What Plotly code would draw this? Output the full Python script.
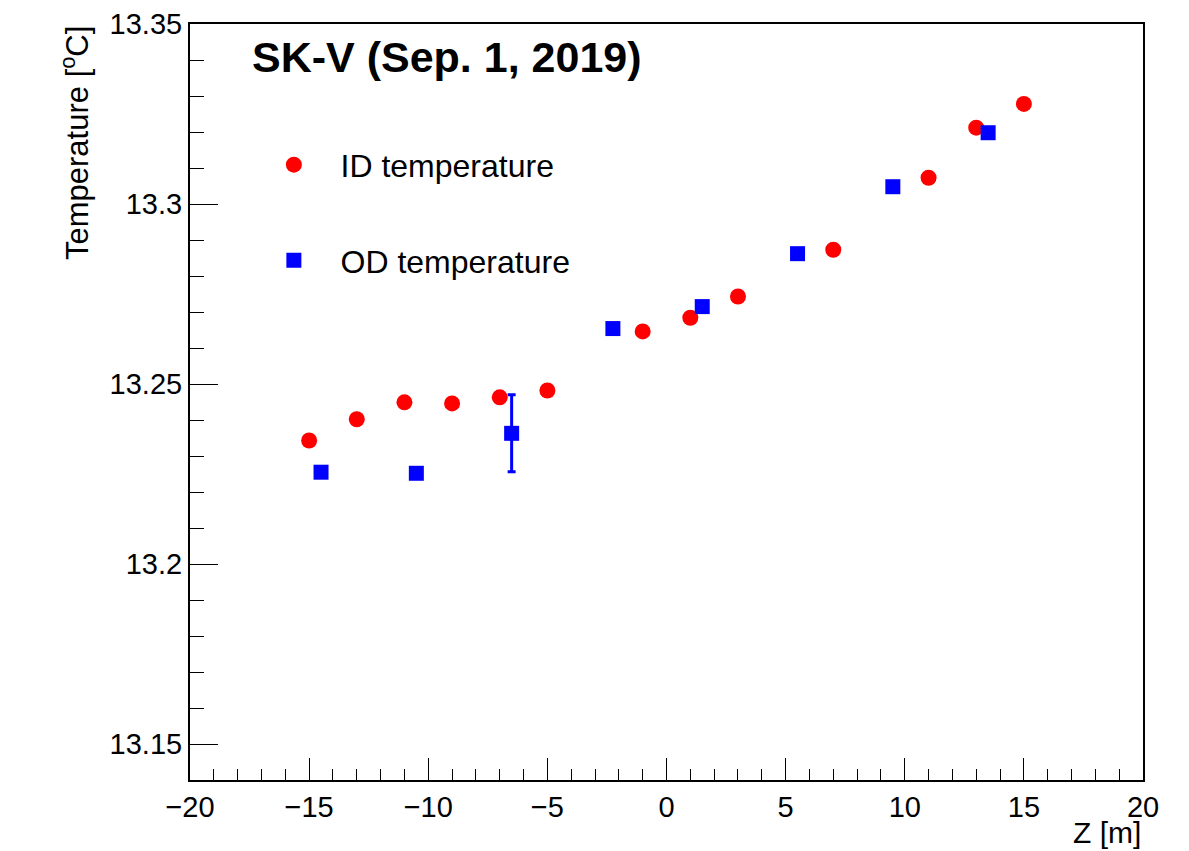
import plotly.graph_objects as go

id_z = [-15, -13, -11, -9, -7, -5, -1, 1, 3, 7, 11, 13, 15]
id_temp = [13.2343, 13.2402, 13.2449, 13.2446, 13.2463, 13.2482, 13.2646,
           13.2684, 13.2743, 13.2873, 13.3073, 13.3212, 13.3278]

od_z = [-14.5, -10.5, -6.5, -2.25, 1.5, 5.5, 9.5, 13.5]
od_temp = [13.2255, 13.2252, 13.2363, 13.2654, 13.2715, 13.2862, 13.3048, 13.3198]
od_err = [0, 0, 0.0107, 0, 0, 0, 0, 0]

FONT = "Liberation Sans, Arial, Helvetica, sans-serif"
NB = "\u00a0"

fig = go.Figure()
fig.add_trace(go.Scatter(
    x=id_z, y=id_temp, mode="markers", name=NB * 3 + "ID temperature",
    marker=dict(symbol="circle", size=16, color="#ff0000"),
    legendgroup="id",
))
fig.add_trace(go.Scatter(
    x=od_z, y=od_temp, mode="markers", name=NB * 3 + "OD temperature",
    marker=dict(symbol="square", size=15, color="#0000ff"),
    error_y=dict(type="data", array=od_err, visible=True, color="#0000ff",
                 thickness=3, width=4),
    legendgroup="od",
))

fig.update_layout(
    width=1189, height=851,
    margin=dict(l=190, r=46, t=24, b=71, autoexpand=False),
    paper_bgcolor="white", plot_bgcolor="white",
    font=dict(family=FONT, size=29, color="black"),
    showlegend=True,
    legend=dict(x=0.088, y=0.85, xanchor="left", yanchor="top",
                bgcolor="rgba(0,0,0,0)", font=dict(size=32, family=FONT),
                traceorder="grouped", tracegroupgap=51, itemsizing="trace"),
    xaxis=dict(range=[-20, 20], dtick=5, tick0=0, ticks="inside", ticklen=22,
               tickwidth=1, tickcolor="black", showgrid=False, zeroline=False,
               showline=True, linecolor="black", linewidth=2, mirror=True,
               automargin=False, tickfont=dict(size=29, family=FONT),
               minor=dict(dtick=1, ticks="inside", ticklen=11, tickwidth=1,
                          tickcolor="black", showgrid=False)),
    yaxis=dict(range=[13.14, 13.35], dtick=0.05, tick0=13.15, ticks="inside",
               ticklen=28, tickwidth=1, tickcolor="black", showgrid=False,
               zeroline=False, showline=True, linecolor="black", linewidth=2,
               mirror=True, automargin=False, tickfont=dict(size=29, family=FONT),
               minor=dict(dtick=0.01, tick0=13.14, ticks="inside", ticklen=14,
                          tickwidth=1, tickcolor="black", showgrid=False)),
    annotations=[
        dict(text="<b>SK-V (Sep. 1, 2019)</b>", xref="paper", yref="paper",
             x=(250 - 190) / 953, y=(780 - 57) / 756, xanchor="left",
             yanchor="middle", showarrow=False,
             font=dict(size=43, family=FONT, color="black")),
        dict(text="Temperature [<sup>o</sup>C]", xref="paper", yref="paper",
             x=(75 - 190) / 953, y=1.0, xanchor="center", yanchor="top",
             textangle=-90, showarrow=False,
             font=dict(size=31, family=FONT, color="black")),
        dict(text="Z [m]", xref="paper", yref="paper",
             x=1.0, y=(780 - 833) / 756, xanchor="right", yanchor="middle",
             showarrow=False, font=dict(size=30, family=FONT, color="black")),
    ],
)

fig.write_html(
    "out.html",
    config={"displayModeBar": False},
    post_script="document.body.style.margin='0';document.body.style.overflow='hidden';",
)
